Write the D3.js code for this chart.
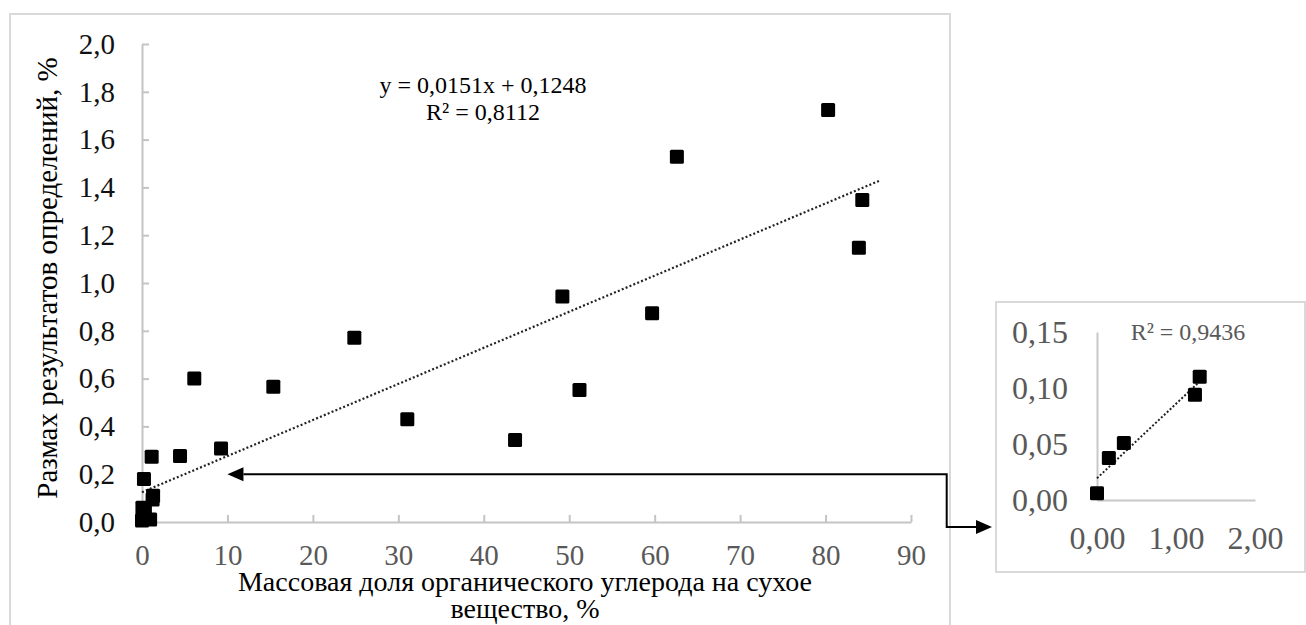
<!DOCTYPE html>
<html>
<head>
<meta charset="utf-8">
<script src="https://cdn.jsdelivr.net/npm/d3@7"></script>
<style>
  body { margin: 0; background: #fff; }
  svg { display: block; font-family: "Liberation Serif", "Times New Roman", serif; }
</style>
</head>
<body>
<div id="chart"></div>
<script>
// main chart data
const carbon = [0, 0.05, 0.15, 0.34, 0.95, 1.24, 1.30, 0.23, 1.13, 4.45, 9.25, 6.12, 15.37, 24.85, 31.05, 43.66, 49.2, 51.2, 59.7, 62.6, 80.3, 83.9, 84.3];
const spread = [0.006, 0.06, 0.0375, 0.051, 0.01, 0.094, 0.11, 0.18, 0.273, 0.276, 0.308, 0.6, 0.566, 0.771, 0.43, 0.343, 0.943, 0.552, 0.873, 1.528, 1.724, 1.148, 1.347];
const xTicks = [0, 10, 20, 30, 40, 50, 60, 70, 80, 90];
const yTicks = [0, 0.2, 0.4, 0.6, 0.8, 1.0, 1.2, 1.4, 1.6, 1.8, 2.0];
const trendSlope = 0.0151, trendIntercept = 0.1248;
const trendRange = [0, 86.3];
const eqLines = ["y = 0,0151x + 0,1248", "R² = 0,8112"];
const xTitle = ["Массовая доля органического углерода на сухое", "вещество, %"];
const yTitle = "Размах результатов определений, %";

// inset (zoom of the smallest values)
const insetX = [0, 0.15, 0.34, 1.24, 1.30];
const insetY = [0.006, 0.0375, 0.051, 0.094, 0.11];
const insetXTicks = [0, 1, 2];
const insetYTicks = [0, 0.05, 0.10, 0.15];
const insetR2 = "R² = 0,9436";
const pointerAt = [10, 0.2];   // where the arrow points in the main chart

const width = 1306, height = 625;
const serif = '"Liberation Serif", "Times New Roman", serif';
const comma = f => v => d3.format(f)(v).replace(".", ",");

let svg = d3.select("#chart")
    .append("svg")
    .attr("width", width)
    .attr("height", height);

// frames
svg.append("rect")
    .attr("x", 10).attr("y", 14)
    .attr("width", 940).attr("height", 640)
    .attr("fill", "none")
    .attr("stroke", "#d9d9d9")
    .attr("stroke-width", 2);

svg.append("rect")
    .attr("x", 996).attr("y", 302)
    .attr("width", 309).attr("height", 270)
    .attr("fill", "none")
    .attr("stroke", "#d9d9d9")
    .attr("stroke-width", 2);

// ---- main chart ----
let x = d3.scaleLinear().domain([0, 90]).range([142, 911]);
let y = d3.scaleLinear().domain([0, 2]).range([522, 44]);

let xAxis = svg.append("g")
    .attr("transform", `translate(0, ${y(0)})`)
    .call(d3.axisBottom(x).tickValues(xTicks).tickSizeInner(-7).tickSizeOuter(0).tickPadding(22)
        .tickFormat(d3.format("d")));

let yAxis = svg.append("g")
    .attr("transform", `translate(${x(0)}, 0)`)
    .call(d3.axisLeft(y).tickValues(yTicks).tickSizeInner(-7).tickSizeOuter(0).tickPadding(27)
        .tickFormat(comma(".1f")));

[xAxis, yAxis].forEach(function (g) {
    g.attr("font-family", serif).attr("font-size", 29);
    g.selectAll("path, line").attr("stroke", "#c4c4c4").attr("stroke-width", 2);
});
xAxis.selectAll("text").attr("fill", "#595959");
yAxis.selectAll("text").attr("fill", "#111");

// trend line
svg.append("path")
    .datum(trendRange)
    .attr("fill", "none")
    .attr("stroke", "#222")
    .attr("stroke-width", 2.2)
    .attr("stroke-dasharray", "2,2.2")
    .attr("d", d3.line()
        .x(d => x(d))
        .y(d => y(trendSlope * d + trendIntercept)));

// points
svg.append("g")
    .selectAll("rect")
    .data(d3.zip(carbon, spread))
    .join("rect")
    .attr("x", d => x(d[0]) - 7)
    .attr("y", d => y(d[1]) - 7)
    .attr("width", 14).attr("height", 14)
    .attr("rx", 1.5)
    .attr("fill", "#000");

// equation
svg.append("text")
    .attr("text-anchor", "middle")
    .style("font-size", "24px")
    .attr("fill", "#000")
    .selectAll("tspan")
    .data(eqLines)
    .join("tspan")
    .attr("x", 483)
    .attr("y", (d, i) => 93 + i * 27)
    .text(d => d);

// axis titles
svg.append("text")
    .attr("text-anchor", "middle")
    .style("font-size", "28px")
    .selectAll("tspan")
    .data(xTitle)
    .join("tspan")
    .attr("x", 525)
    .attr("y", (d, i) => 591 + i * 27)
    .text(d => d);

svg.append("text")
    .attr("text-anchor", "middle")
    .attr("transform", `translate(57, 278) rotate(-90)`)
    .style("font-size", "29px")
    .text(yTitle);

// ---- inset ----
let ix = d3.scaleLinear().domain([0, 2]).range([1097, 1255]);
let iy = d3.scaleLinear().domain([0, 0.15]).range([500, 332]);

let ixAxis = svg.append("g")
    .attr("transform", `translate(0, ${iy(0)})`)
    .call(d3.axisBottom(ix).tickValues(insetXTicks).tickSize(0).tickPadding(26)
        .tickFormat(comma(".2f")));
let iyAxis = svg.append("g")
    .attr("transform", `translate(${ix(0)}, 0)`)
    .call(d3.axisLeft(iy).tickValues(insetYTicks).tickSize(0).tickPadding(29)
        .tickFormat(comma(".2f")));

[ixAxis, iyAxis].forEach(function (g) {
    g.attr("font-family", serif).attr("font-size", 32);
    g.selectAll("path").attr("stroke", "#c8c8c8").attr("stroke-width", 2);
    g.selectAll("text").attr("fill", "#595959");
});

// inset trend (least squares over inset points)
let mx = d3.mean(insetX), my = d3.mean(insetY);
let slope = d3.sum(insetX, (v, i) => (v - mx) * (insetY[i] - my)) / d3.sum(insetX, v => (v - mx) * (v - mx));
let icept = my - slope * mx;
svg.append("path")
    .datum(d3.extent(insetX))
    .attr("fill", "none")
    .attr("stroke", "#222")
    .attr("stroke-width", 2)
    .attr("stroke-dasharray", "2,2")
    .attr("d", d3.line().x(d => ix(d)).y(d => iy(slope * d + icept)));

svg.append("g")
    .selectAll("rect")
    .data(d3.zip(insetX, insetY))
    .join("rect")
    .attr("x", d => ix(d[0]) - 7)
    .attr("y", d => iy(d[1]) - 7)
    .attr("width", 14).attr("height", 14)
    .attr("rx", 1.5)
    .attr("fill", "#000");

svg.append("text")
    .attr("x", 1188).attr("y", 340)
    .attr("text-anchor", "middle")
    .style("font-size", "24px")
    .attr("fill", "#595959")
    .text(insetR2);

// ---- connector arrow: inset box <- -> main chart ----
let tipX = x(pointerAt[0]), tipY = y(pointerAt[1]);
let bendX = 946.7, lowY = 527, endX = 992, head = 16, half = 7;

svg.append("path")
    .attr("d", `M${tipX + head},${tipY} H${bendX} V${lowY} H${endX - head}`)
    .attr("fill", "none")
    .attr("stroke", "#000")
    .attr("stroke-width", 2);

svg.append("path")
    .attr("d", `M${tipX},${tipY} L${tipX + head},${tipY - half} L${tipX + head},${tipY + half} Z`)
    .attr("fill", "#000");
svg.append("path")
    .attr("d", `M${endX},${lowY} L${endX - head},${lowY - half} L${endX - head},${lowY + half} Z`)
    .attr("fill", "#000");
</script>
</body>
</html>
